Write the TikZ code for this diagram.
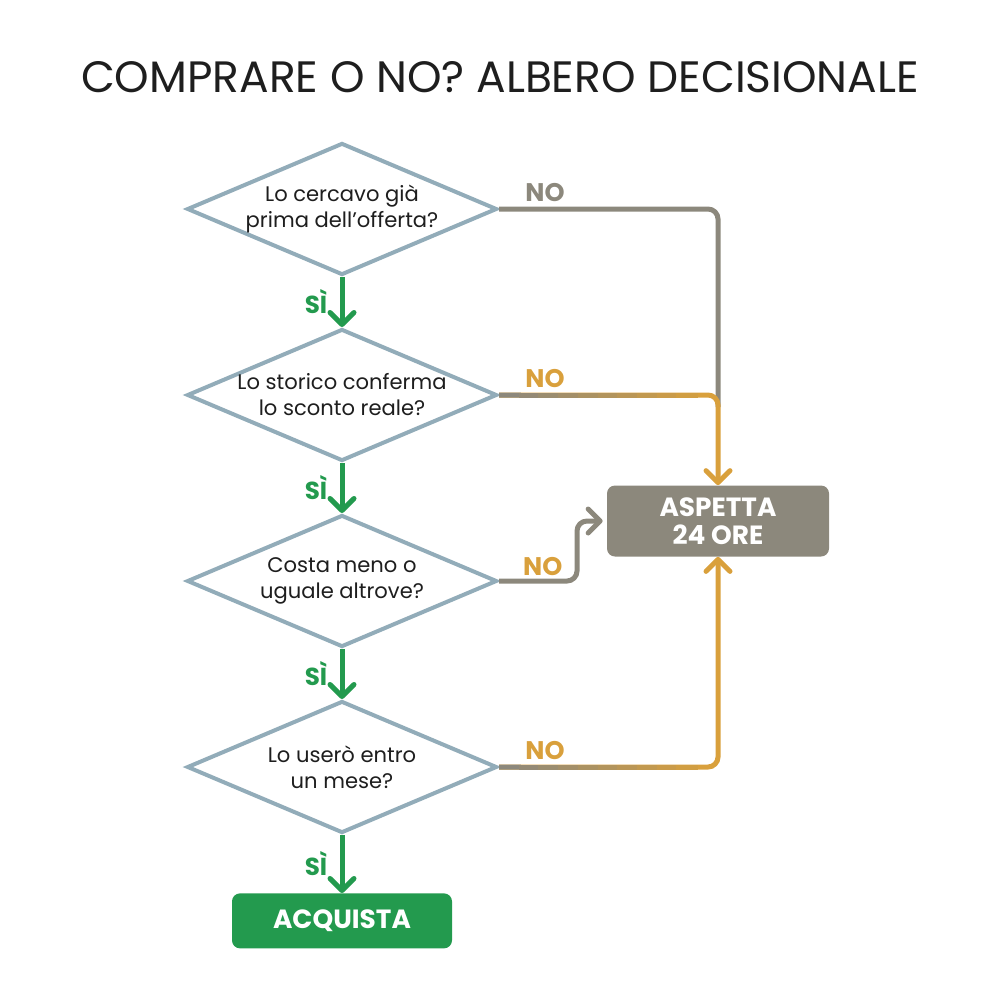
\documentclass[tikz,border=0pt]{standalone}
\usepackage{fontspec}
\setmainfont{Poppins}
\usetikzlibrary{
  arrows.meta,
  calc,
  positioning,
  shapes.geometric
}
\definecolor{rombogray}{RGB}{146,172,185}
\definecolor{sigreen}{RGB}{35,154,78}
\definecolor{nogray}{RGB}{140,136,124}
\definecolor{nogold}{RGB}{217,160,60}
\definecolor{inkblack}{RGB}{30,30,30}
\tikzset{
  question/.style={diamond,draw=rombogray,line width=0.8mm,fill=white,
    aspect=2.35,minimum width=62mm,minimum height=26.4mm,inner sep=0pt,
    align=center,text=inkblack,font=\fontsize{12}{14.8}\selectfont},
  outcome/.style={rectangle,rounded corners=1.6mm,text=white,align=center,
    font=\bfseries\fontsize{15}{15.6}\selectfont},
  siflow/.style={-{Straight Barb[length=2.4mm,width=4.8mm,round]},
    line width=1mm,draw=sigreen},
  noflow/.style={-{Straight Barb[length=2.4mm,width=4.8mm,round]},
    line width=1mm,rounded corners=2mm},
  silab/.style={font=\bfseries\fontsize{14}{16}\selectfont,text=sigreen},
  nolab/.style={font=\bfseries\fontsize{14.5}{16}\selectfont,
    anchor=south west,xshift=3.6mm,yshift=-0.2mm}
}

\begin{document}
\begin{tikzpicture}[x=0.2mm,y=-0.2mm,node distance=10mm]
  \useasboundingbox (0,0) rectangle (1000,1000);
  \node[font=\fontsize{25}{30}\selectfont,text=inkblack] (title) at (500,77)
    {COMPRARE O NO? ALBERO DECISIONALE};

  \node[question] (q1) at (342,209) {Lo cercavo già\\prima dell’offerta?};
  \node[question,below=of q1] (q2) {Lo storico conferma\\lo sconto reale?};
  \node[question,below=of q2] (q3) {Costa meno o\\uguale altrove?};
  \node[question,below=of q3] (q4) {Lo userò entro\\un mese?};
  \node[outcome,fill=sigreen,minimum width=44mm,minimum height=11mm,
    below=11.6mm of q4] (buy) {ACQUISTA};
  \node[outcome,fill=nogray,minimum width=44.4mm,minimum height=14.2mm]
    (wait) at (718,521) {ASPETTA\\24 ORE};

  % si: straight down
  \foreach \a/\b in {q1/q2,q2/q3,q3/q4,q4/buy}
    \draw[siflow] (\a) -- node[silab,left=1.3mm] {SÌ} (\b);

  % no: towards the waiting box
  \draw[noflow,-,draw=nogray] (q1.east) -- node[nolab,pos=0,text=nogray] {NO}
    (q1.east -| wait) -- ($(q2.east -| wait)+(0,12)$);
  \draw[noflow,draw=nogold] (q2.east) -- node[nolab,pos=0,text=nogold] {NO}
    (q2.east -| wait) -- (wait.north);
  \coordinate (bend) at ($(q3.east)+(78,0)$);
  \draw[noflow,draw=nogray,shorten >=0.8mm] (q3.east) -- (bend) |- (wait.west);
  \node[nolab,text=nogold] at (q3.east) {NO};
  \draw[noflow,draw=nogold] (q4.east) -- node[nolab,pos=0,text=nogold] {NO}
    (q4.east -| wait) -- (wait.south);

  % gray to gold fade on the long branches
  \foreach \q in {q2,q4}
    \foreach \k in {0,...,9}
      \draw[line width=1mm,draw=nogold!\k0!nogray]
        ($(\q.east)!\k*0.09!(\q.east -| wait)$) --
        ($(\q.east)!\k*0.09+0.1!(\q.east -| wait)$);
\end{tikzpicture}
\end{document}
